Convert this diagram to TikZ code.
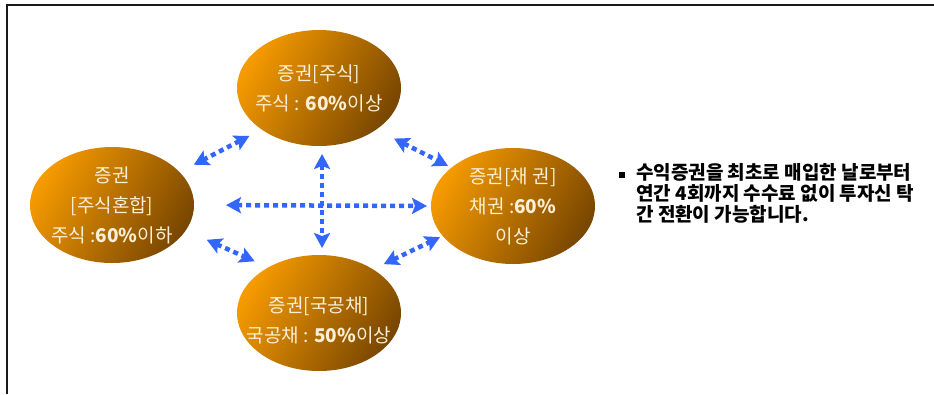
\documentclass[tikz,border=0pt]{standalone}
\usepackage{fontspec}
\setmainfont{Noto Sans CJK KR}
\usetikzlibrary{shapes,arrows.meta}
\definecolor{fundorange}{HTML}{F59A00}
\definecolor{fundbrown}{HTML}{7A4700}
\definecolor{fundtext}{HTML}{FBEFD6}
\definecolor{arrowblue}{HTML}{3366FF}
\tikzstyle{line} = [draw=arrowblue, line width=4.5pt, dash pattern=on 5pt off 4pt, {Stealth[length=15pt,width=16pt,inset=3pt]}-{Stealth[length=15pt,width=16pt,inset=3pt]}]
\tikzstyle{fund} = [ellipse, minimum width=164pt, minimum height=116pt, inner sep=0pt, outer sep=0pt, left color=fundorange, right color=fundbrown, shading angle=60]
\tikzstyle{fund_txt} = [text=fundtext, align=center, font=\fontsize{19}{30}\selectfont, inner sep=0pt]
\tikzstyle{note} = [align=left, font=\bfseries\fontsize{19}{21}\selectfont, inner sep=0pt, anchor=north west]
\tikzstyle{sq_mark} = [fill=black, minimum size=6pt, inner sep=0pt]
\tikzstyle{frame} = [draw=black!90, line width=2.5pt]

\begin{document}
\begin{tikzpicture}[x=1pt, y=-1pt]
	\useasboundingbox (0,0) rectangle (934,394);
	\draw[frame] (7,394) -- (7,5) -- (934,5);
	
	\node[fund] (fund_top) at (319,88) {};
	\node[fund_txt] (fund_top_txt) at (fund_top) {증권[주식]\\주식 : {\bfseries 60\%}이상};
	
	\node[fund] (fund_left) at (112,205) {};
	\node[fund_txt] (fund_left_txt) at (fund_left) {증권\\{[}주식혼합{]}\\주식 :{\bfseries 60\%}이하};
	
	\node[fund] (fund_right) at (513,206) {};
	\node[fund_txt] (fund_right_txt) at (fund_right) {증권[채 권]\\채권 :{\bfseries 60\%}\\이상};
	
	\node[fund] (fund_bot) at (319,313) {};
	\node[fund_txt] (fund_bot_txt) at ([yshift=-7pt]fund_bot.center) {증권[국공채]\\국공채 : {\bfseries 50\%}이상};
	
	\path [line, shorten <=14pt, shorten >=16pt] (fund_top.216) to (fund_left.26);
	\path [line, shorten <=20pt, shorten >=4pt] (fund_top.-36) to (fund_right.148);
	\path [line, shorten <=23pt, shorten >=15pt] (fund_left.-19) to (fund_bot.138);
	\path [line, shorten <=12pt, shorten >=3pt] (fund_bot.39) to (fund_right.203);
	\path [line, shorten <=32pt, shorten >=4pt] (fund_left.east) to (fund_right.west);
	\path [line, shorten <=8pt, shorten >=7pt] (fund_top.-87) to (fund_bot.87);
	
	\node[sq_mark] (mark) at (622,175) {};
	\node[note] (note) at (636,163) {수익증권을 최초로 매입한 날로부터\\연간 4회까지 수수료 없이 투자신 탁\\간 전환이 가능합니다.};
\end{tikzpicture}
\end{document}
